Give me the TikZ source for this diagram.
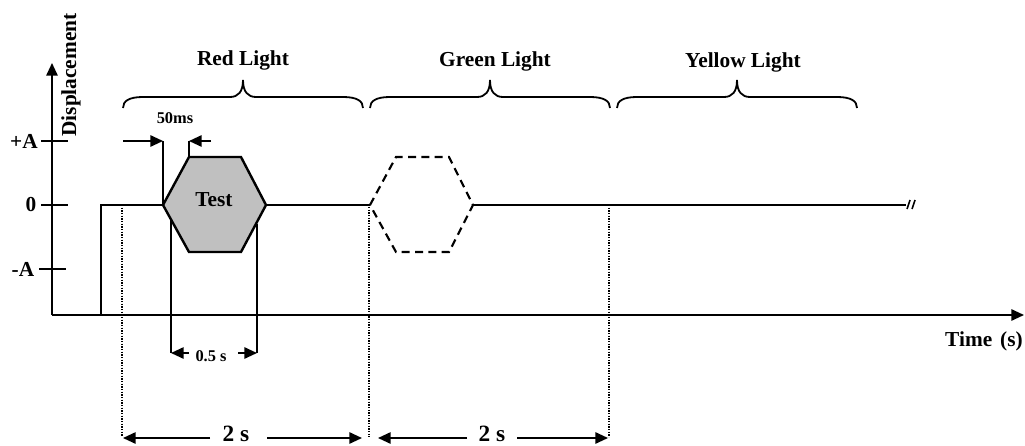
\documentclass[tikz,border=0pt]{standalone}
\usepackage{fontspec}
\setmainfont{Liberation Serif}
\usetikzlibrary{arrows.meta}
\definecolor{testgray}{RGB}{192,192,192}
\begin{document}
\begin{tikzpicture}[x=0.75pt,y=-0.75pt,
  line width=1.35pt,
  lbl/.style={font=\bfseries\fontsize{16}{19}\selectfont, inner sep=0pt},
  sml/.style={font=\bfseries\fontsize{12.3}{14}\selectfont, inner sep=0pt},
  big/.style={font=\bfseries\fontsize{17.5}{20}\selectfont, inner sep=0pt},
  arr/.style={-{Triangle[length=9.5pt,width=8.5pt]}},
  dots/.style={line width=1.5pt, dash pattern=on 1.1pt off 0.9pt},
  hexsolid/.style={line width=1.8pt, fill=testgray, line join=miter},
  hexdash/.style={line width=1.6pt, dash pattern=on 6pt off 4pt},
  brk/.style={line width=1.2pt},
]
\useasboundingbox (0,0) rectangle (1025,446);

% axes
\coordinate (O) at (52,315);
\coordinate (Ytop) at (52,63);
\coordinate (Xend) at (1024,315);
\draw[arr] (O) -- (Ytop);
\draw[arr] (O) -- (Xend);
\node[lbl,rotate=90] (disp) at (71,75) {Displacement};
\node[lbl] (time) at (984,341) {Time\hspace{2pt} (s)};

% ticks
\coordinate (tpA1) at (41,141); \coordinate (tpA2) at (68,141);
\coordinate (tz1) at (41,205);  \coordinate (tz2) at (68,205);
\coordinate (tmA1) at (39,269); \coordinate (tmA2) at (66,269);
\draw (tpA1) -- (tpA2);
\draw (tz1) -- (tz2);
\draw (tmA1) -- (tmA2);
\node[lbl] (lpA) at (24,141) {+A};
\node[lbl] (lz) at (31,205) {0};
\node[lbl] (lmA) at (23,269) {-A};

% signal
\coordinate (s0) at (101,315);
\coordinate (s1) at (101,205);
\coordinate (h1) at (163,205);
\coordinate (h2) at (189,157);
\coordinate (h3) at (241,157);
\coordinate (h4) at (266,205);
\coordinate (h5) at (241,252);
\coordinate (h6) at (189,252);
\coordinate (g1) at (370,205);
\coordinate (g2) at (396,157);
\coordinate (g3) at (449,157);
\coordinate (g4) at (473,205);
\coordinate (g5) at (449,252);
\coordinate (g6) at (396,252);
\coordinate (send) at (906,205);
\draw (s0) -- (s1) -- (h1);
\draw[hexsolid] (h1) -- (h2) -- (h3) -- (h4) -- (h5) -- (h6) -- cycle;
\node[lbl] (test) at (214,200) {Test};
\draw (h4) -- (g1);
\draw[hexdash] (g1) -- (g2) -- (g3) -- (g4) -- (g5) -- (g6) -- cycle;
\draw (g4) -- (send);
\coordinate (b1a) at (907,209); \coordinate (b1b) at (910,200);
\coordinate (b2a) at (912,209); \coordinate (b2b) at (915,200);
\draw[brk] (b1a) -- (b1b);
\draw[brk] (b2a) -- (b2b);

% 50ms marker
\coordinate (m1top) at (163,141);
\coordinate (m1tail) at (123,141);
\coordinate (m2bot) at (189,157);
\coordinate (m2top) at (189,141);
\coordinate (m2tail) at (211,141);
\draw (h1) -- (m1top);
\draw[arr] (m1tail) -- (m1top);
\draw (m2bot) -- (m2top);
\draw[arr] (m2tail) -- (m2top);
\node[sml] (l50) at (175,118) {50ms};

% 0.5 s marker
\coordinate (v1a) at (171,220); \coordinate (v1b) at (171,353);
\coordinate (v2a) at (257,224); \coordinate (v2b) at (257,353);
\draw (v1a) -- (v1b);
\draw (v2a) -- (v2b);
\node[sml] (l05) at (211,356) {0.5 s};
\coordinate (a05l) at (189,353);
\coordinate (a05r) at (238,353);
\draw[arr] (a05l) -- (v1b);
\draw[arr] (a05r) -- (v2b);

% dotted guides
\coordinate (d1t) at (122,205); \coordinate (d1b) at (122,436);
\coordinate (d2t) at (369,207); \coordinate (d2b) at (369,437);
\coordinate (d3t) at (609,205); \coordinate (d3b) at (609,437);
\draw[dots] (d1t) -- (d1b);
\draw[dots] (d2t) -- (d2b);
\draw[dots] (d3t) -- (d3b);

% 2 s dimensions
\node[big] (t1) at (236,434) {2 s};
\node[big] (t2) at (492,434) {2 s};
\coordinate (p1l) at (210,438); \coordinate (p1le) at (123,438);
\coordinate (p1r) at (267,438); \coordinate (p1re) at (362,438);
\coordinate (p2l) at (467,438); \coordinate (p2le) at (378,438);
\coordinate (p2r) at (517,438); \coordinate (p2re) at (608,438);
\draw[arr] (p1l) -- (p1le);
\draw[arr] (p1r) -- (p1re);
\draw[arr] (p2l) -- (p2le);
\draw[arr] (p2r) -- (p2re);

% braces
\foreach \a/\b/\m in {123/363/243, 370/610/490, 617/857/737}{
  \draw (\a,108) .. controls (\a,101) and ({\a+6},97) .. ({\a+20},97)
    -- ({\m-13},97) .. controls ({\m-5},97) and (\m,92) .. (\m,80)
    .. controls (\m,92) and ({\m+5},97) .. ({\m+13},97)
    -- ({\b-20},97) .. controls ({\b-6},97) and (\b,101) .. (\b,108);
}
\node[lbl] (red) at (243,60) {Red Light};
\node[lbl] (green) at (495,61) {Green Light};
\node[lbl] (yellow) at (743,62) {Yellow Light};
\end{tikzpicture}
\end{document}
